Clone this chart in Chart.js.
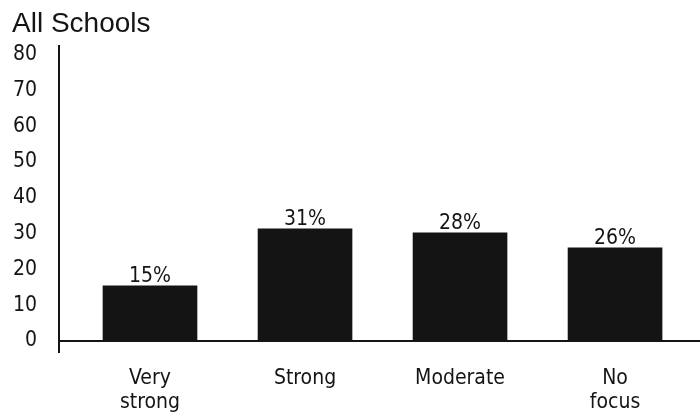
<!DOCTYPE html>
<html>
<head>
<meta charset="utf-8">
<script src="https://cdn.jsdelivr.net/npm/chart.js@4"></script>
<style>
  html, body { margin:0; padding:0; background:#fff; }
  canvas { display:block; }
</style>
</head>
<body>
<canvas id="c" width="700" height="419"></canvas>
<script>
// ---------- data ----------
const categories = [['Very','strong'], 'Strong', 'Moderate', ['No','focus']];
const barValues  = [15.4, 31.3, 30.2, 26];   // bar heights as drawn
const valueLabels = ['15%', '31%', '28%', '26%'];
const yTicks = [0, 10, 20, 30, 40, 50, 60, 70, 80];

const narrow = "'DejaVu Sans Condensed', 'Liberation Sans', sans-serif";
const ink = '#141414';

// labels above bars
const barLabels = {
  id:'barLabels',
  afterDatasetsDraw(chart) {
    const ctx = chart.ctx;
    const meta = chart.getDatasetMeta(0);
    ctx.save();
    ctx.font = '21px ' + narrow;
    ctx.fillStyle = ink;
    ctx.textAlign = 'center';
    ctx.textBaseline = 'alphabetic';
    meta.data.forEach((bar, i)=> ctx.fillText(valueLabels[i], bar.x, bar.y - 4));
    ctx.restore();
  }
};

new Chart(document.getElementById('c'), {
  type:'bar',
  data:{
    datasets:[{
      data: barValues.map((v,i)=> ({x:i, y:v})),
      backgroundColor: ink,
      barThickness: 94
    }]
  },
  options:{
    responsive:false,
    animation:false,
    layout:{ padding:{ left:12, right:0, top:0, bottom:0 } },
    plugins:{
      legend:{ display:false },
      tooltip:{ enabled:false },
      title:{
        display:true, text:'All Schools', align:'start', color:ink,
        font:{ family:"'Liberation Sans', Arial, sans-serif", size:28, weight:'normal' },
        padding:{ top:7, bottom:5 }
      }
    },
    scales:{
      x:{
        type:'linear', min:-0.587, max:3.548, offset:false,
        afterBuildTicks: (s)=> { s.ticks = categories.map((c,i)=> ({value:i})); },
        afterFit: (s)=> { s.height = 67; },
        grid:{ display:false },
        border:{ display:false },
        ticks:{
          color:ink, padding:6, maxRotation:0, autoSkip:false,
          font:{ family:narrow, size:21, lineHeight:1.15 },
          callback: (v)=> categories[v]
        }
      },
      y:{
        min:-3.08, max:82.52,
        afterBuildTicks: (s)=> { s.ticks = yTicks.map(v=> ({value:v})); },
        afterFit: (s)=> { s.width = 47; },
        grid:{
          drawTicks:false, lineWidth:2,
          color: (c)=> c.tick && c.tick.value === 0 ? ink : 'rgba(0,0,0,0)'
        },
        border:{ display:true, color:ink, width:2 },
        ticks:{ color:ink, padding:22, font:{ family:narrow, size:21 } }
      }
    }
  },
  plugins:[barLabels]
});
</script>
</body>
</html>
